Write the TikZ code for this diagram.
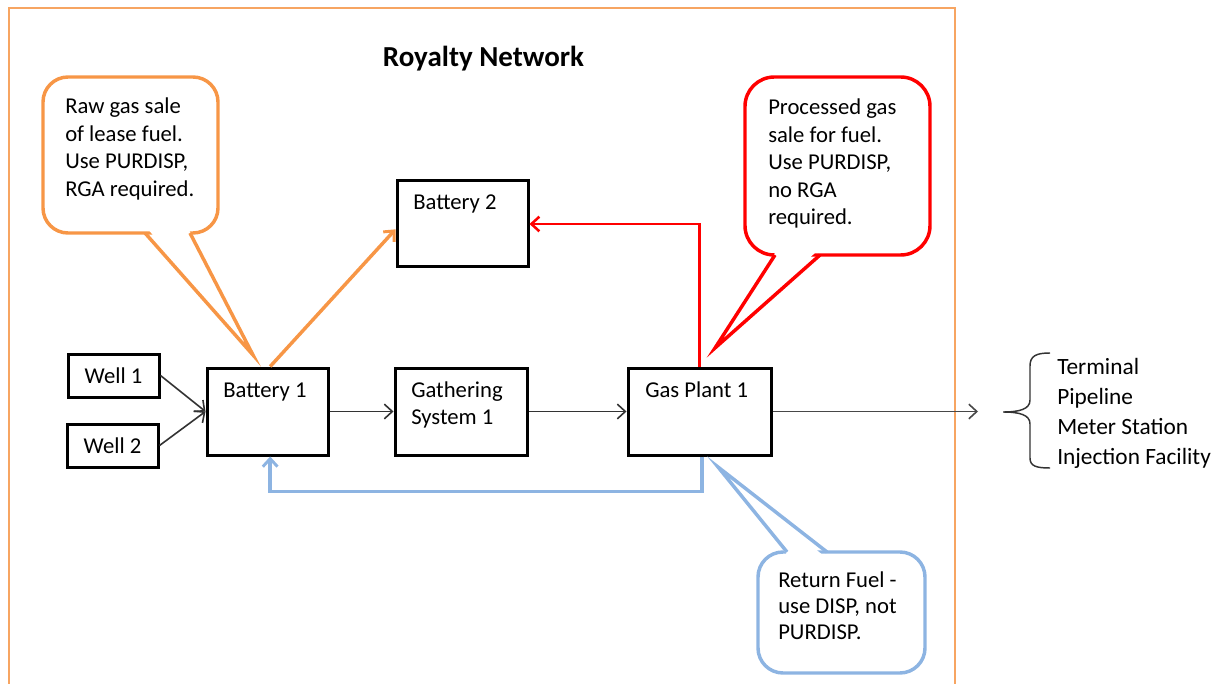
\documentclass[tikz,border=0pt]{standalone}
\usepackage{fontspec}
\setmainfont{Carlito}
\usetikzlibrary{arrows.meta,calc}
\definecolor{frameorange}{HTML}{F7A562}
\definecolor{calorange}{HTML}{F79646}
\definecolor{calblue}{HTML}{8DB4E2}
\definecolor{darkline}{HTML}{333333}
\tikzset{
  box/.style={draw=black, line width=2.25pt, fill=white, inner sep=0pt},
  boxtext/.style={anchor=base west, inner sep=0pt, font=\fontsize{17}{20.6}\selectfont},
  thinarrow/.style={draw=darkline, line width=1.2pt, -{Straight Barb[length=6pt,width=11pt,line width=1.2pt]}},
  calltext/.style={anchor=base west, inner sep=0pt, align=left, font=\fontsize{17}{20.6}\selectfont},
  orangecall/.style={draw=calorange, line width=2.6pt, line join=miter},
  redcall/.style={draw=red, line width=2.6pt, line join=miter},
  bluecall/.style={draw=calblue, line width=2.6pt, line join=miter},
}
\begin{document}
\begin{tikzpicture}[x=0.75pt,y=-0.75pt]
\useasboundingbox (0,0) rectangle (1228,684);
% outer frame
\draw[frameorange, line width=1.5pt] (9,684) -- (9,8) -- (955,8) -- (955,684);
% title
\node[anchor=base, inner sep=0pt, font=\bfseries\fontsize{21.75}{26}\selectfont] (title) at (483.5,67) {Royalty Network};

% boxes
\node[box, minimum width=68.25pt, minimum height=32.25pt] (w1) at (113.5,375.5) {};
\node[box, minimum width=68.25pt, minimum height=32.25pt] (w2) at (112.5,445.5) {};
\node[box, minimum width=90.75pt, minimum height=65.25pt] (b1) at (267.5,411.5) {};
\node[box, minimum width=98.25pt, minimum height=64.5pt] (b2) at (462.5,224) {};
\node[box, minimum width=99pt, minimum height=65.25pt] (gs) at (461,411.5) {};
\node[box, minimum width=107.25pt, minimum height=65.25pt] (gp) at (699.5,411.5) {};

\node[anchor=base, inner sep=0pt, font=\fontsize{17}{20.6}\selectfont] (w1t) at (113.5,383) {Well 1};
\node[anchor=base, inner sep=0pt, font=\fontsize{17}{20.6}\selectfont] (w2t) at (112.5,453) {Well 2};
\node[boxtext] (b1t) at (223,397) {Battery 1};
\node[boxtext] (b2t) at (413,210) {Battery 2};
\node[boxtext] (gst1) at (411,397) {Gathering};
\node[boxtext] (gst2) at (411,424) {System 1};
\node[boxtext] (gpt) at (645,397) {Gas Plant 1};

% thin connectors
\coordinate (out) at (978,411.5);
\draw[thinarrow] (w1.east) -- (b1.west);
\draw[thinarrow] (w2.east) -- (b1.west);
\draw[thinarrow] (b1.east) -- (gs.west);
\draw[thinarrow] (gs.east) -- (gp.west);
\draw[thinarrow, draw=darkline!90] (gp.east) -- (out);

% coloured connectors
\draw[calorange, line width=2.6pt, -{Straight Barb[length=6pt,width=11pt,line width=2.2pt]}] ([xshift=2pt]b1.north) -- ([yshift=-4pt]b2.west);
\draw[red, line width=1.9pt, -{Straight Barb[length=6pt,width=11pt,line width=1.9pt]}] (gp.north) |- (b2.east);
\draw[calblue, line width=2.6pt, -{Straight Barb[length=6pt,width=11pt,line width=2.2pt]}] ([xshift=2pt]gp.south) -- ++(0,35) -| ([xshift=2pt]b1.south);

% brace and list
\draw[darkline, line width=1.1pt] (1050,353) .. controls (1036,353) and (1030,356) .. (1030,366) -- (1030,400) .. controls (1030,409) and (1020,412) .. (1003,412) .. controls (1020,412) and (1030,415) .. (1030,424) -- (1030,458) .. controls (1030,466) and (1036,468) .. (1050,468);
\node[boxtext, font=\fontsize{17.5}{20.6}\selectfont] (l1) at (1057,374) {Terminal};
\node[boxtext, font=\fontsize{17.5}{20.6}\selectfont] (l2) at (1057,404) {Pipeline};
\node[boxtext, font=\fontsize{17.5}{20.6}\selectfont] (l3) at (1057,434) {Meter Station};
\node[boxtext, font=\fontsize{17.5}{20.6}\selectfont] (l4) at (1057,464) {Injection Facility};

% orange callout
\draw[orangecall, fill=white, rounded corners=18.75pt] (43,77) rectangle (218,233);
\fill[white] (147,228) -- (188,228) -- (253,355) -- cycle;
\draw[orangecall] (145,233) -- (253,355) -- (190,233);
\node[calltext] (c1a) at (65,114) {Raw gas sale};
\node[calltext] (c1b) at (65,141.5) {of lease fuel.};
\node[calltext] (c1c) at (65,169) {Use PURDISP,};
\node[calltext] (c1d) at (65,196.5) {RGA required.};

% red callout
\draw[redcall, fill=white, rounded corners=22pt] (745,77) rectangle (930,255);
\fill[white] (777,250) -- (818,250) -- (715,348) -- cycle;
\draw[redcall] (775,255) -- (715,348) -- (820,255);
\node[calltext] (c2a) at (768,115) {Processed gas};
\node[calltext] (c2b) at (768,142.5) {sale for fuel.};
\node[calltext] (c2c) at (768,170) {Use PURDISP,};
\node[calltext] (c2d) at (768,197.5) {no RGA};
\node[calltext] (c2e) at (768,225) {required.};

% blue callout
\draw[bluecall, fill=white, rounded corners=18.75pt] (758,552) rectangle (925,673);
\fill[white] (789,557) -- (825,557) -- (718,467) -- cycle;
\draw[bluecall] (787,552) -- (718,467) -- (827,552);
\node[calltext] (c3a) at (778,587) {Return Fuel -};
\node[calltext] (c3b) at (778,613) {use DISP, not};
\node[calltext] (c3c) at (778,639) {PURDISP.};
\end{tikzpicture}
\end{document}
